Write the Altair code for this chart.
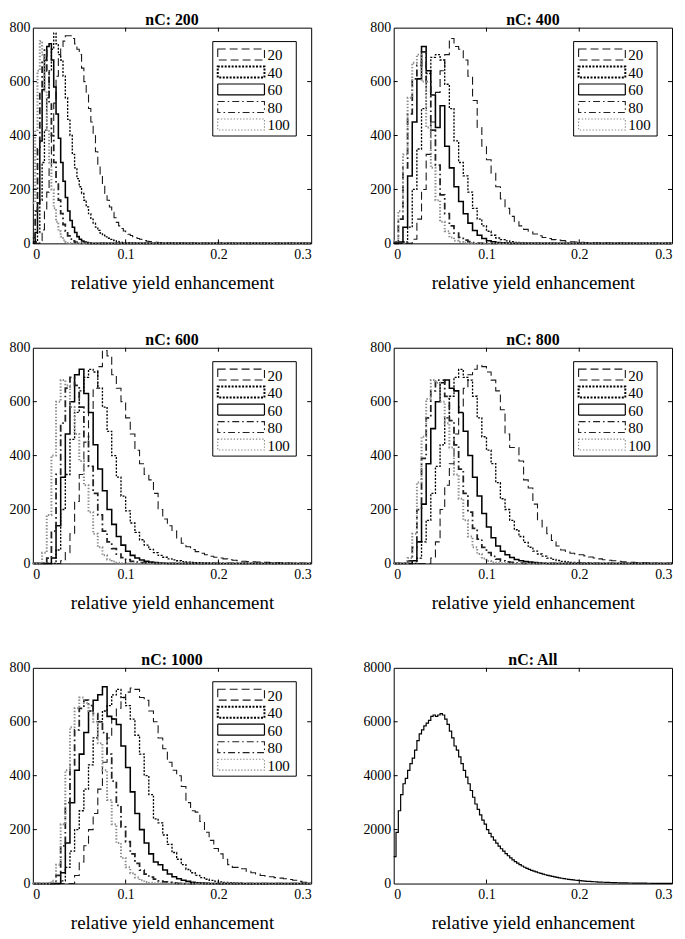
import altair as alt
import pandas as pd

FONT = "Liberation Serif"
SERIES = ["20", "40", "60", "80", "100"]
COLORS = ["#1a1a1a", "#000000", "#000000", "#222222", "#8c8c8c"]
DASHES = [[8, 4], [2, 1.5], [1, 0], [7, 3, 1.6, 3], [1.4, 1.8]]
WIDTHS = [1.1, 2.0, 1.2, 1.1, 1.1]
TITLES = ["nC: 200", "nC: 400", "nC: 600", "nC: 800", "nC: 1000"]
BIN_W = [0.0025, 0.005, 0.005, 0.005, 0.005]
X_LABELS = [0, 0.1, 0.2, 0.3]
Y_LABELS = [0, 200, 400, 600, 800]
Y_LABELS_ALL = [0, 2000, 4000, 6000, 8000]

# ---- nC: 200 (bin width 0.0025) ----
P200_20 = [0, 0, 0, 10, 50, 120, 190, 280, 400, 520, 620, 690, 730, 750, 770, 770, 770, 760, 740, 720,
           700, 650, 600, 550, 500, 450, 400, 340, 290, 250, 215, 185, 160, 135, 115, 95, 78, 65, 55, 46,
           40, 34, 29, 25, 21, 18, 15, 12, 10, 8, 7, 6, 5, 4, 3, 3, 2, 2, 1, 1, 1, 1, 1, 1, 1, 1, 1, 1, 1, 1]
P200_40 = [0, 5, 40, 160, 300, 420, 540, 640, 720, 780, 740, 700, 680, 620, 540, 460, 400, 330, 280, 240,
           210, 185, 160, 135, 110, 90, 75, 60, 48, 38, 30, 24, 19, 15, 12, 9, 7, 5, 4, 3, 2, 2, 1, 1, 1]
P200_60 = [5, 40, 150, 380, 570, 680, 730, 740, 680, 580, 480, 390, 300, 230, 170, 120, 85, 60, 40, 25,
           15, 9, 5, 3, 1]
P200_80 = [20, 120, 350, 560, 680, 720, 640, 520, 400, 300, 220, 160, 110, 70, 45, 28, 16, 9, 5, 2, 1]
P200_100 = [150, 420, 640, 750, 700, 560, 420, 300, 200, 130, 80, 45, 25, 12, 6, 2, 1]

# ---- nC: 400 (bin width 0.005) ----
P400_20 = [0, 0, 0, 0, 15, 90, 200, 330, 450, 560, 640, 700, 760, 730, 720, 680, 620, 530, 430, 360,
           310, 260, 210, 165, 130, 100, 80, 65, 52, 42, 35, 28, 22, 18, 14, 12, 10, 8, 6, 5,
           4, 3, 3, 2, 2, 2, 1, 1, 1, 1, 1]
P400_40 = [0, 0, 5, 60, 200, 350, 500, 630, 690, 700, 680, 590, 500, 380, 300, 250, 190, 130, 90, 65,
           45, 30, 20, 14, 9, 6, 4, 3, 2, 1]
P400_60 = [0, 5, 60, 250, 450, 610, 730, 640, 550, 430, 510, 360, 280, 210, 155, 110, 75, 48, 30, 18,
           10, 6, 3, 2, 1]
P400_80 = [5, 90, 280, 480, 610, 660, 710, 600, 420, 290, 180, 110, 65, 38, 22, 12, 6, 3, 1]
P400_100 = [10, 120, 330, 540, 670, 700, 600, 430, 280, 160, 80, 45, 22, 10, 5, 2, 1]

# ---- nC: 600 ----
P600_20 = [0, 0, 0, 0, 0, 0, 10, 40, 110, 230, 330, 450, 560, 650, 730, 790, 770, 700, 650, 600,
           540, 480, 420, 370, 330, 310, 260, 200, 165, 140, 120, 95, 75, 62, 52, 44, 38, 32, 27, 23,
           20, 17, 14, 12, 10, 8, 7, 6, 5, 4, 4, 3, 3, 2, 2, 1, 1, 1]
P600_40 = [0, 0, 0, 0, 0, 50, 200, 330, 460, 560, 640, 690, 720, 710, 650, 580, 490, 400, 320, 250,
           195, 150, 115, 88, 68, 52, 40, 30, 23, 17, 13, 10, 7, 5, 4, 3, 2, 2, 1]
P600_60 = [0, 0, 0, 0, 20, 140, 320, 480, 600, 700, 720, 630, 560, 440, 350, 270, 200, 145, 100, 68,
           45, 30, 20, 13, 8, 5, 3, 2, 1]
P600_80 = [0, 0, 0, 20, 120, 330, 520, 650, 690, 660, 580, 470, 360, 260, 180, 120, 80, 55, 35, 22,
           14, 8, 5, 3, 2, 1]
P600_100 = [0, 0, 40, 180, 400, 600, 680, 660, 580, 480, 380, 290, 190, 110, 60, 30, 15, 7, 3, 1]

# ---- nC: 800 ----
P800_20 = [0, 0, 0, 0, 0, 0, 0, 0, 20, 80, 200, 290, 370, 480, 580, 650, 700, 720, 735, 730,
           710, 680, 640, 570, 480, 430, 430, 380, 310, 280, 220, 160, 135, 110, 85, 65, 50, 42, 38, 35,
           32, 28, 24, 20, 17, 14, 12, 10, 8, 6, 5, 4, 3, 3, 2, 2, 1, 1, 1]
P800_40 = [0, 0, 0, 0, 0, 20, 80, 160, 260, 360, 440, 540, 620, 690, 720, 690, 680, 620, 540, 470,
           420, 370, 300, 240, 200, 160, 125, 100, 78, 60, 46, 35, 27, 20, 15, 11, 8, 6, 4, 3, 2, 2, 1]
P800_60 = [0, 0, 0, 0, 10, 80, 220, 370, 500, 600, 670, 680, 650, 640, 560, 490, 400, 320, 250, 185,
           135, 95, 65, 45, 32, 22, 15, 10, 7, 5, 3, 2, 1]
P800_80 = [0, 0, 0, 10, 60, 200, 390, 540, 640, 680, 680, 620, 530, 440, 350, 260, 190, 130, 90, 60,
           40, 26, 16, 10, 6, 4, 2, 1]
P800_100 = [0, 0, 0, 20, 110, 300, 470, 610, 680, 670, 600, 520, 430, 330, 240, 160, 100, 60, 35, 18,
            9, 4, 2, 1]

# ---- nC: 1000 ----
P1000_20 = [0, 0, 0, 0, 0, 0, 0, 0, 0, 30, 80, 140, 200, 260, 350, 450, 540, 610, 650, 690,
            710, 725, 720, 690, 680, 640, 600, 540, 500, 450, 420, 400, 360, 300, 270, 265, 230, 190, 160, 130,
            110, 90, 70, 60, 60, 55, 45, 40, 35, 30, 28, 25, 22, 20, 18, 15, 12, 8, 5, 3]
P1000_40 = [0, 0, 0, 0, 0, 0, 10, 60, 120, 200, 270, 350, 440, 540, 600, 640, 660, 700, 720, 690,
            660, 610, 550, 480, 400, 330, 240, 225, 180, 145, 115, 90, 70, 52, 40, 30, 22, 16, 12, 9,
            6, 4, 3, 2, 1]
P1000_60 = [0, 0, 0, 0, 0, 0, 40, 150, 300, 420, 480, 560, 640, 680, 700, 730, 620, 610, 590, 510,
            430, 340, 260, 200, 150, 110, 80, 70, 50, 35, 25, 18, 12, 8, 5, 3, 2, 1]
P1000_80 = [0, 0, 0, 0, 0, 30, 140, 300, 440, 570, 650, 680, 660, 630, 600, 560, 480, 380, 290, 210,
            155, 110, 75, 50, 35, 24, 16, 10, 6, 4, 2, 1]
P1000_100 = [0, 0, 0, 0, 10, 70, 220, 420, 580, 650, 690, 670, 640, 600, 520, 420, 310, 220, 150, 95,
             60, 38, 22, 12, 6, 3, 1]

# ---- nC: All (bin width 0.0025) ----
ALL_W = 0.0025
ALL_COUNTS = [1000, 1900, 2700, 3300, 3700, 3900, 4200, 4450, 4650, 4950, 5300, 5550, 5700, 5850, 5950,
              6050, 6200, 6250, 6200, 6250, 6300, 6250, 6100, 5900, 5650, 5400, 5100, 4950, 4700, 4450,
              4200, 3950, 3700, 3450, 3200, 2950, 2750, 2550, 2350, 2200, 2000, 1860, 1730, 1610, 1500,
              1390, 1290, 1200, 1110, 1030, 950, 880, 815, 755, 700, 650, 605, 565, 525, 490,
              460, 430, 400, 375, 350, 325, 305, 285, 265, 245, 228, 212, 196, 182, 168,
              156, 144, 133, 123, 114, 105, 97, 90, 83, 77, 71, 66, 61, 56, 52,
              48, 44, 41, 38, 35, 32, 30, 28, 26, 24, 22, 20, 19, 17, 16,
              15, 14, 13, 12, 11, 10, 9, 9, 8, 8, 7, 7, 6, 6, 5]

PANELS = [
    [P200_20, P200_40, P200_60, P200_80, P200_100],
    [P400_20, P400_40, P400_60, P400_80, P400_100],
    [P600_20, P600_40, P600_60, P600_80, P600_100],
    [P800_20, P800_40, P800_60, P800_80, P800_100],
    [P1000_20, P1000_40, P1000_60, P1000_80, P1000_100],
]

W, H = 280, 217
TK = 4  # inward tick length

# legend box geometry (pixels inside the plot area)
LEG_X0, LEG_X1, LEG_Y0, LEG_Y1 = 181, 265, 14, 109
SYM_X0, SYM_X1, SYM_H = 186, 233, 11
ROW_Y0, ROW_STEP = 27, 17.6
LABEL_X = 236


def hist_rows(counts, w, name):
    n = int(round(0.3 / w))
    vals = list(counts) + [0] * (n - len(counts))
    rows = [{"x": i * w, "y": v, "series": name} for i, v in enumerate(vals)]
    rows.append({"x": 0.3, "y": vals[-1], "series": name})
    return rows


def ticks_layers(yvals):
    xt = pd.DataFrame({"x": X_LABELS[1:-1]})
    yt = pd.DataFrame({"y": yvals[1:-1]})
    top = alt.Chart(xt).mark_rule(color="black").encode(x="x:Q", y=alt.value(0), y2=alt.value(TK))
    bot = alt.Chart(xt).mark_rule(color="black").encode(x="x:Q", y=alt.value(H - TK), y2=alt.value(H))
    lef = alt.Chart(yt).mark_rule(color="black").encode(y="y:Q", x=alt.value(0), x2=alt.value(TK))
    rig = alt.Chart(yt).mark_rule(color="black").encode(y="y:Q", x=alt.value(W - TK), x2=alt.value(W))
    return [top, bot, lef, rig]


def legend_layers():
    box = alt.Chart(pd.DataFrame({"series": ["box"]})).mark_rect(
        fill="white", stroke="black", strokeWidth=1
    ).encode(x=alt.value(LEG_X0), x2=alt.value(LEG_X1), y=alt.value(LEG_Y0), y2=alt.value(LEG_Y1))
    out = [box]
    for k, name in enumerate(SERIES):
        cy = ROW_Y0 + k * ROW_STEP
        d = pd.DataFrame({"series": [name]})
        sym = alt.Chart(d).mark_rect(
            fill="white", stroke=COLORS[k], strokeDash=DASHES[k], strokeWidth=WIDTHS[k]
        ).encode(x=alt.value(SYM_X0), x2=alt.value(SYM_X1),
                 y=alt.value(cy - SYM_H / 2), y2=alt.value(cy + SYM_H / 2))
        lab = alt.Chart(d).mark_text(
            align="left", baseline="middle", font=FONT, fontSize=15, color="black"
        ).encode(x=alt.value(LABEL_X), y=alt.value(cy + 1), text="series:N")
        out += [sym, lab]
    return out


def x_enc():
    return alt.X("x:Q", scale=alt.Scale(domain=[0, 0.3], nice=False, zero=False),
                 axis=alt.Axis(values=X_LABELS, format="~g", title="relative yield enhancement",
                               labelPadding=4, titlePadding=12))


def title(text):
    return alt.TitleParams(text, font=FONT, fontSize=16, fontWeight="bold", color="black", offset=-7)


def panel(i):
    rows = []
    for name, counts in zip(SERIES, PANELS[i]):
        rows += hist_rows(counts, BIN_W[i], name)
    df = pd.DataFrame(rows)
    lines = alt.Chart(df).mark_line(interpolate="step-after").encode(
        x=x_enc(),
        y=alt.Y("y:Q", scale=alt.Scale(domain=[0, 800], nice=False),
                axis=alt.Axis(values=Y_LABELS, format="d", title=None, labelPadding=3)),
        color=alt.Color("series:N", scale=alt.Scale(domain=SERIES, range=COLORS), legend=None),
        strokeDash=alt.StrokeDash("series:N", scale=alt.Scale(domain=SERIES, range=DASHES), legend=None),
        strokeWidth=alt.StrokeWidth("series:N", scale=alt.Scale(domain=SERIES, range=WIDTHS), legend=None),
    )
    return alt.layer(lines, *ticks_layers(Y_LABELS), *legend_layers()).properties(
        width=W, height=H, title=title(TITLES[i]))


def panel_all():
    df = pd.DataFrame(hist_rows(ALL_COUNTS, ALL_W, "All"))
    line = alt.Chart(df).mark_line(interpolate="step-after", color="black", strokeWidth=1.2).encode(
        x=x_enc(),
        y=alt.Y("y:Q", scale=alt.Scale(domain=[0, 8000], nice=False),
                axis=alt.Axis(values=Y_LABELS_ALL, format="d", title=None, labelPadding=3)),
    )
    return alt.layer(line, *ticks_layers(Y_LABELS_ALL)).properties(
        width=W, height=H, title=title("nC: All"))


chart = alt.concat(
    panel(0), panel(1), panel(2), panel(3), panel(4), panel_all(),
    columns=2, spacing={"row": 105, "column": 83}, bounds="flush",
).properties(padding=0).configure_view(
    stroke="black", strokeWidth=1
).configure_axis(
    labelFont=FONT, labelFontSize=14, labelColor="black",
    titleFont=FONT, titleFontSize=19, titleFontWeight="normal", titleColor="black",
    grid=False, ticks=False, domain=False
).configure_title(anchor="middle")

chart.save("out.html", embed_options={"renderer": "svg", "actions": False})
